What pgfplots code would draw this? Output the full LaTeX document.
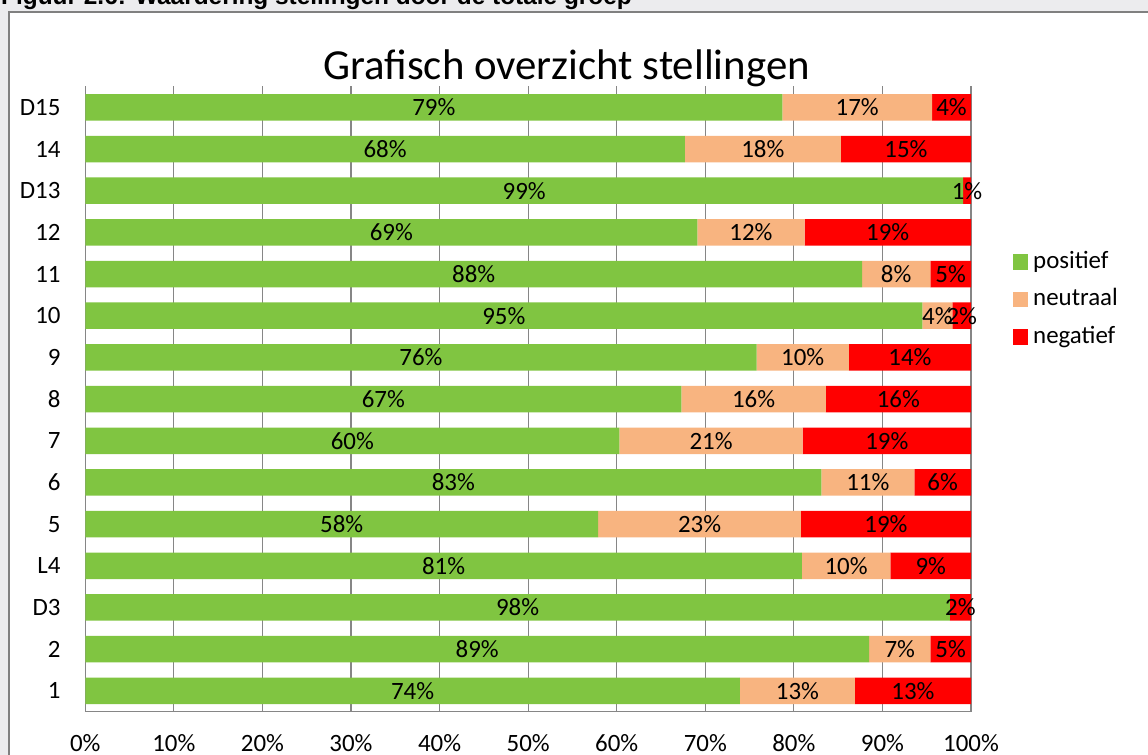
\documentclass[border=0pt]{standalone}
\usepackage{pgfplots}
\pgfplotsset{compat=1.18}
\usepackage{pgfplotstable}
\usepackage{fontspec}
\setmainfont{Carlito}
\newfontfamily\capfont{Liberation Sans}
\pgfplotsset{/pgf/number format/assume math mode=true}
\definecolor{cpos}{RGB}{128,197,65}
\definecolor{cneu}{RGB}{248,180,128}
\definecolor{cneg}{RGB}{255,0,0}
\definecolor{gridc}{RGB}{134,134,134}
\definecolor{bgc}{RGB}{236,236,238}
\definecolor{framec}{RGB}{128,128,128}

% bar values (percent), categories bottom (1) to top (D15)
\pgfplotstableread{
y pos neu neg
1  73.9 13.0 13.1
2  88.5  6.9  4.6
3  97.6  0.0  2.4
4  80.9 10.0  9.1
5  57.9 22.9 19.2
6  83.1 10.5  6.4
7  60.3 20.7 19.0
8  67.3 16.3 16.4
9  75.8 10.4 13.8
10 94.5  3.4  2.1
11 87.7  7.7  4.6
12 69.1 12.1 18.8
13 99.1  0.0  0.9
14 67.7 17.6 14.7
15 78.7 16.9  4.4
}\bars

% data labels: position (segment centre), category, label value
\pgfplotstableread{
x y lab
36.95 1 74
80.40 1 13
93.45 1 13
44.25 2 89
91.95 2 7
97.70 2 5
48.80 3 98
98.80 3 2
40.45 4 81
85.90 4 10
95.45 4 9
28.95 5 58
69.35 5 23
90.40 5 19
41.55 6 83
88.35 6 11
96.80 6 6
30.15 7 60
70.65 7 21
90.50 7 19
33.65 8 67
75.45 8 16
91.80 8 16
37.90 9 76
81.00 9 10
93.10 9 14
47.25 10 95
96.20 10 4
98.95 10 2
43.85 11 88
91.55 11 8
97.70 11 5
34.55 12 69
75.15 12 12
90.60 12 19
49.55 13 99
99.55 13 1
33.85 14 68
76.50 14 18
92.65 14 15
39.35 15 79
87.15 15 17
97.80 15 4
}\labels

\begin{document}
\begin{tikzpicture}[x=1bp,y=1bp]
\useasboundingbox (0,0) rectangle (1148,755);
\clip (0,0) rectangle (1148,755);
\fill[bgc] (0,0) rectangle (1148,755);
\fill[white] (8.5,-5) rectangle (1155,743);
\draw[framec, line width=2bp] (8.5,-5) -- (8.5,743) -- (1155,743);
\node[anchor=base west, inner sep=0pt, font=\capfont\bfseries\fontsize{24.5}{28}\selectfont] at (1,750.5) {Figuur 2.6: Waardering stellingen door de totale groep};
\node[anchor=base, inner sep=0pt, font=\fontsize{43}{50}\selectfont] at (566.5,675) {Grafisch overzicht stellingen};

\begin{axis}[
  at={(85.3bp,43.3bp)}, anchor=south west, scale only axis,
  width=885.7bp, height=625.2bp,
  xbar stacked, bar width=26.5bp,
  xmin=0, xmax=100, ymin=0.5, ymax=15.5,
  ytick={1,...,15},
  yticklabels={1,2,D3,L4,5,6,7,8,9,10,11,12,D13,14,D15},
  xtick={0,10,...,100},
  xticklabel={\pgfmathprintnumber{\tick}\%},
  axis x line*=bottom, axis y line*=left,
  axis line style={gridc, line width=1.2bp, -},
  xmajorgrids, grid style={gridc, line width=1.2bp},
  major tick length=0pt,
  tick label style={font=\fontsize{25}{30}\selectfont},
  xticklabel style={anchor=base, inner sep=0pt, yshift=-40bp},
  yticklabel style={anchor=east, inner sep=0pt, xshift=-24.6bp},
  legend style={at={(1.0474,0.6585)}, anchor=west, draw=none, fill=none,
    inner sep=0pt, row sep=15.5bp,
    font=\fontsize{25}{30}\selectfont,
    nodes={inner sep=0pt, text height=17bp, text depth=5bp},
    /tikz/every odd column/.append style={column sep=5bp}},
  legend cell align=left,
  legend image code/.code={\fill[#1] (0bp,-7.5bp) rectangle (15bp,8bp);},
]
\addplot[fill=cpos, draw=none] table[x=pos,y=y]{\bars};
\addplot[fill=cneu, draw=none] table[x=neu,y=y]{\bars};
\addplot[fill=cneg, draw=none] table[x=neg,y=y]{\bars};
\legend{positief,neutraal,negatief}
\end{axis}

\begin{axis}[
  at={(85.3bp,43.3bp)}, anchor=south west, scale only axis,
  width=885.7bp, height=625.2bp,
  xmin=0, xmax=100, ymin=0.5, ymax=15.5,
  hide axis, clip=false,
]
\addplot[only marks, mark=none, point meta=explicit,
  nodes near coords={\pgfmathprintnumber{\pgfplotspointmeta}\%},
  nodes near coords align=center,
  every node near coord/.append style={font=\fontsize{25}{30}\selectfont, inner sep=0pt, anchor=center, text=black}]
  table[x=x,y=y,meta=lab]{\labels};
\end{axis}
\end{tikzpicture}
\end{document}
